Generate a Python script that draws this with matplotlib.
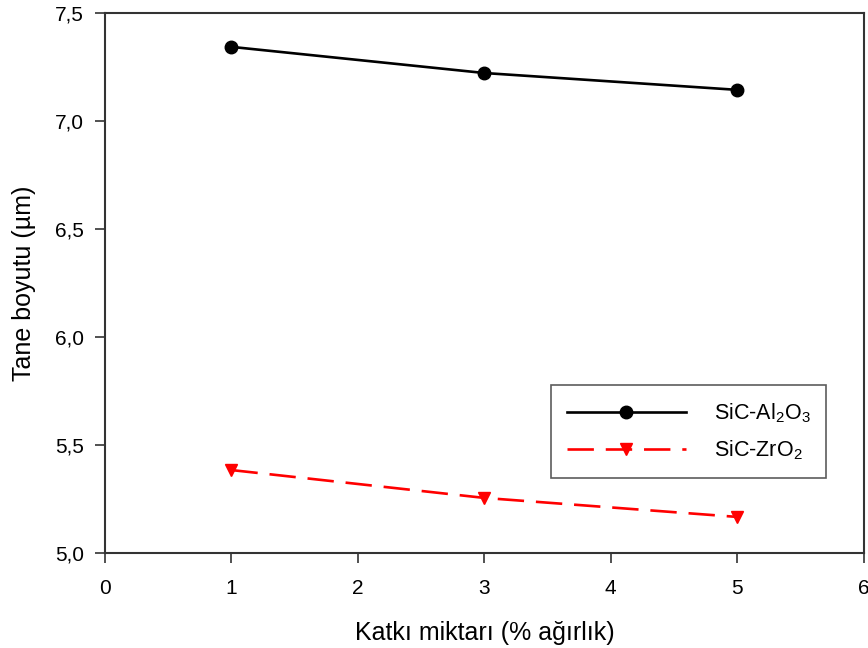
import matplotlib
matplotlib.use('Agg')
import matplotlib.pyplot as plt
from matplotlib.ticker import FuncFormatter

katki = [1, 3, 5]
sic_al2o3 = [7.343, 7.222, 7.144]
sic_zro2 = [5.384, 5.255, 5.167]

plt.rcParams['font.family'] = ['Liberation Sans', 'DejaVu Sans']
plt.rcParams['mathtext.fontset'] = 'custom'
plt.rcParams['mathtext.rm'] = 'Liberation Sans'
plt.rcParams['mathtext.it'] = 'Liberation Sans'

fig = plt.figure(figsize=(8.68, 6.48), dpi=100)
ax = fig.add_axes([0.121, 0.1466, 0.874, 0.8334])

ax.plot(katki, sic_al2o3, color='black', lw=1.9, marker='o', markersize=9,
        label=r'SiC-Al$_\mathrm{2}$O$_\mathrm{3}$')
ax.plot(katki, sic_zro2, color='red', lw=1.9, ls=(0, (10, 4.5)), marker='v',
        markersize=9, label=r'SiC-ZrO$_\mathrm{2}$')

ax.set_xlim(0, 6)
ax.set_ylim(5.0, 7.5)
ax.set_xticks(range(7))
ax.set_yticks([5.0, 5.5, 6.0, 6.5, 7.0, 7.5])
ax.yaxis.set_major_formatter(FuncFormatter(lambda v, p: f'{v:.1f}'.replace('.', ',')))
ax.tick_params(axis='x', direction='out', length=7, width=1.2, labelsize=15, pad=12, color='#333333')
ax.tick_params(axis='y', direction='out', length=7, width=1.2, labelsize=15, pad=8, color='#333333')
for s in ax.spines.values():
    s.set_linewidth(1.5)
    s.set_color('#333333')

ax.set_xlabel('Katkı miktarı (% ağırlık)', fontsize=18, labelpad=16)
ax.set_ylabel('Tane boyutu (µm)', fontsize=18, labelpad=14)

leg = ax.legend(loc='upper left', bbox_to_anchor=(551 / 868, 1 - 385 / 648),
                bbox_transform=fig.transFigure, fontsize=15.5, frameon=True,
                fancybox=False, edgecolor='#333333', handlelength=5.5,
                borderpad=0.75, labelspacing=0.65, handletextpad=1.3, borderaxespad=0)
leg.get_frame().set_linewidth(1.2)

fig.savefig('out.png', dpi=100)
plt.close(fig)
